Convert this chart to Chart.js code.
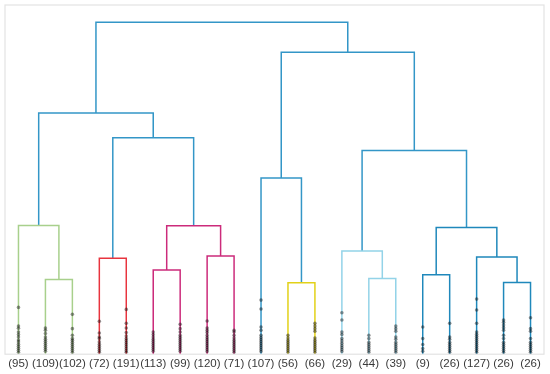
<!DOCTYPE html>
<html>
<head>
<meta charset="utf-8">
<script src="https://cdn.jsdelivr.net/npm/chart.js@4/dist/chart.umd.min.js"></script>
<style>
html,body{margin:0;padding:0;background:#fff;}
#wrap{width:550px;height:374px;}
</style>
</head>
<body>
<div id="wrap"><canvas id="c" width="550" height="374"></canvas></div>
<script>
// Leaf labels (cluster sizes) in display order
const leafLabels = ['(95)','(109)','(102)','(72)','(191)','(113)','(99)','(120)','(71)','(107)','(56)','(66)','(29)','(44)','(39)','(9)','(26)','(127)','(26)','(26)'];

// Linkage: [childA, childB, height]; ids 0-19 are leaves, 20+ are merges in this order
const mergeA = [1, 0, 3, 5, 7, 23, 22, 21, 10, 9, 13, 12, 15, 18, 17, 32, 31, 29, 27];
const mergeB = [2, 20, 4, 6, 8, 24, 25, 26, 11, 28, 14, 30, 16, 19, 33, 34, 35, 36, 37];
const mergeH = [22.5, 38.8, 28.9, 25.4, 29.6, 38.7, 65.2, 72.7, 21.5, 53.1, 22.8, 31.1, 23.9, 21.6, 29.3, 38.2, 61.4, 91.0, 100.0];
const mergeColor = ['#a8d08c','#a8d08c','#e8343e','#cc2b7b','#cc2b7b','#cc2b7b','#3396c7','#3396c7','#e2d118','#3396c7','#93d3e8','#93d3e8','#1f88bb','#1f88bb','#1f88bb','#1f88bb','#3396c7','#3396c7','#3396c7'];

// Contracted-node marks (heights) per leaf
const contracted = [
  [14.1, 8.5, 7.8, 6.7, 5.9, 5.2, 4.3, 3.7, 3.0, 2.4, 1.8, 1.2, 0.6],
  [7.9, 7.2, 6.2, 5.2, 4.5, 3.9, 3.3, 2.7, 2.1, 1.5, 0.9],
  [12.0, 7.7, 5.7, 4.7, 4.2, 3.6, 3.0, 2.4, 1.8, 1.2, 0.6],
  [9.9, 6.4, 5.2, 4.7, 3.7, 3.0, 2.4, 1.8, 1.2, 0.6],
  [13.5, 9.3, 7.9, 6.5, 5.5, 4.7, 4.1, 3.5, 2.9, 2.3, 1.7, 1.1, 0.6],
  [6.7, 5.9, 5.2, 4.5, 3.9, 3.3, 2.7, 2.1, 1.5, 0.9],
  [9.0, 7.7, 6.7, 5.7, 5.1, 4.5, 3.9, 3.3, 2.7, 2.1, 1.5, 0.9],
  [10.0, 7.9, 7.2, 6.5, 5.7, 5.0, 4.4, 3.8, 3.2, 2.6, 2.0, 1.4, 0.8],
  [7.2, 6.7, 5.7, 4.9, 4.2, 3.6, 3.0, 2.4, 1.8, 1.2, 0.6],
  [16.3, 13.6, 8.2, 7.2, 5.7, 5.0, 4.4, 3.8, 3.2, 2.6, 2.0, 1.4, 0.8],
  [5.7, 4.9, 4.2, 3.6, 3.0, 2.4, 1.8, 1.2, 0.6],
  [9.3, 8.5, 7.7, 6.9, 4.9, 4.2, 3.6, 3.0, 2.4, 1.8, 1.2, 0.6],
  [12.5, 10.3, 6.7, 5.9, 4.7, 4.0, 3.3, 2.6, 2.0, 1.4, 0.8],
  [5.7, 4.7, 3.6, 3.0, 2.4, 1.8, 1.2, 0.6],
  [8.5, 7.7, 6.9, 5.2, 4.5, 3.6, 3.0, 2.4, 1.8, 1.2, 0.6],
  [8.2, 4.7, 2.9, 1.7, 0.9],
  [9.3, 5.2, 4.5, 3.6, 3.0, 2.4, 1.8, 1.2, 0.6],
  [16.6, 13.3, 9.3, 6.7, 6.0, 5.4, 4.8, 4.2, 3.6, 3.0, 2.4, 1.8, 1.2, 0.6],
  [10.3, 9.6, 8.8, 8.0, 7.2, 5.7, 4.7, 3.6, 3.0, 2.4, 1.8, 1.2, 0.6],
  [11.0, 7.7, 6.9, 4.7, 3.6, 3.0, 2.4, 1.8, 1.2, 0.6]
];

// Build node positions (scipy convention: leaves at 5, 15, 25, ...)
const nLeaves = leafLabels.length;
const nodeX = [], nodeH = [];
for (let i = 0; i < nLeaves; i++) { nodeX.push(5 + 10 * i); nodeH.push(0); }
for (let k = 0; k < mergeA.length; k++) {
  nodeX.push((nodeX[mergeA[k]] + nodeX[mergeB[k]]) / 2);
  nodeH.push(mergeH[k]);
}
const datasets = [];
for (let k = 0; k < mergeA.length; k++) {
  const a = mergeA[k], b = mergeB[k], h = mergeH[k];
  datasets.push({
    type: 'line',
    data: [{x: nodeX[a], y: nodeH[a]}, {x: nodeX[a], y: h}, {x: nodeX[b], y: h}, {x: nodeX[b], y: nodeH[b]}],
    borderColor: mergeColor[k],
    borderWidth: 1.5,
    pointRadius: 0,
    fill: false,
    tension: 0,
    order: 2
  });
}
const marks = [];
contracted.forEach((arr, i) => arr.forEach(h => marks.push({x: nodeX[i], y: h})));
datasets.push({
  type: 'scatter',
  data: marks,
  pointRadius: 1.8,
  pointBorderWidth: 0,
  pointBackgroundColor: 'rgba(0,0,0,0.42)',
  order: 1
});

const maxH = Math.max(...mergeH);
const frame = {
  id: 'frame',
  afterDraw(chart) {
    const {ctx, chartArea: a} = chart;
    ctx.save();
    ctx.strokeStyle = '#e3e3e3';
    ctx.lineWidth = 1.2;
    ctx.strokeRect(a.left, a.top, a.right - a.left, a.bottom - a.top);
    ctx.restore();
  }
};

new Chart(document.getElementById('c'), {
  type: 'line',
  data: { datasets },
  options: {
    responsive: false,
    animation: false,
    layout: { padding: { left: 5, right: 6, top: 5, bottom: 0 } },
    plugins: { legend: { display: false }, tooltip: { enabled: false } },
    scales: {
      x: {
        type: 'linear',
        min: 0,
        max: nLeaves * 10,
        afterBuildTicks(axis) { axis.ticks = leafLabels.map((_, i) => ({value: 5 + 10 * i})); },
        ticks: {
          autoSkip: false,
          maxRotation: 0,
          padding: 3,
          color: '#3a3a3a',
          font: { family: 'Liberation Sans, Arial, sans-serif', size: 11.5 },
          callback: (v) => leafLabels[Math.round((v - 5) / 10)]
        },
        grid: { display: false, drawTicks: false },
        border: { display: false }
      },
      y: {
        display: false,
        min: 0,
        max: maxH * 1.052
      }
    }
  },
  plugins: [frame]
});
</script>
</body>
</html>
